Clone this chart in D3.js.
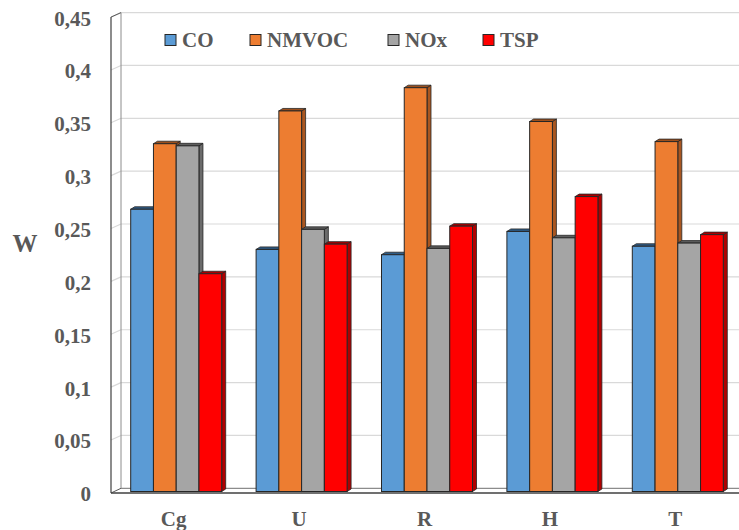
<!DOCTYPE html>
<html>
<head>
<meta charset="utf-8">
<script src="https://cdn.jsdelivr.net/npm/d3@7/dist/d3.min.js"></script>
<style>
  html, body { margin: 0; padding: 0; background: #fff; }
  svg { display: block; }
  svg text { font-family: "Liberation Serif", "Times New Roman", Times, "DejaVu Serif", serif !important; font-weight: bold; fill: #595959; }
</style>
</head>
<body>
<svg id="chart" width="739" height="530"></svg>
<script>
// Emission weights per category
const categories = ["Cg", "U", "R", "H", "T"];
const seriesNames = ["CO", "NMVOC", "NOx", "TSP"];
const coValues    = [0.267, 0.229, 0.224, 0.246, 0.232];
const nmvocValues = [0.329, 0.360, 0.382, 0.350, 0.331];
const noxValues   = [0.327, 0.248, 0.230, 0.240, 0.235];
const tspValues   = [0.206, 0.234, 0.251, 0.279, 0.243];
const yTicks = [0, 0.05, 0.1, 0.15, 0.2, 0.25, 0.3, 0.35, 0.4, 0.45];
const yTitle = "W";

const seriesValues = [coValues, nmvocValues, noxValues, tspValues];
const colors = {
  CO:    { front: "#5B9BD5", top: "#2F5C86", side: "#3A6C9C" },
  NMVOC: { front: "#ED7D31", top: "#9C4F1C", side: "#A95620" },
  NOx:   { front: "#A5A5A5", top: "#5E5E5E", side: "#6B6B6B" },
  TSP:   { front: "#FF0000", top: "#A80000", side: "#B00000" }
};
const FONT = "'Liberation Serif', 'Times New Roman', Times, 'DejaVu Serif', serif";

const svg = d3.select("#chart");
const W = 739;

// scales
const y = d3.scaleLinear().domain([0, 0.45]).range([491.5, 15.8]);
const x = d3.scaleBand().domain(categories).range([113.5, 740.5]).paddingInner(0).paddingOuter(0);
const xs = d3.scaleBand().domain(seriesNames).range([0, x.bandwidth()]).paddingInner(0).paddingOuter(0.756);

// 3D frame geometry
const wallFrontX = 111, wallBackX = 121;
const backDy = -3.2;             // back wall offset relative to front plane
const floorFrontY = 493;
const barDx = 4, barDy = -2.5;   // bar depth

const frame = svg.append("g");
// back wall gridlines
frame.selectAll("line.grid").data(yTicks.filter(v => v > 0)).join("line")
  .attr("class", "grid")
  .attr("x1", wallBackX).attr("x2", W)
  .attr("y1", d => y(d) + backDy).attr("y2", d => y(d) + backDy)
  .attr("stroke", "#D9D9D9").attr("stroke-width", 1.2);
// left wall gridline slants
frame.selectAll("line.wallgrid").data(yTicks.filter(v => v > 0)).join("line")
  .attr("class", "wallgrid")
  .attr("x1", wallFrontX).attr("x2", wallBackX)
  .attr("y1", d => y(d) + backDy + 4.5).attr("y2", d => y(d) + backDy)
  .attr("stroke", "#D9D9D9").attr("stroke-width", 1.2);
// left wall back edge
frame.append("line")
  .attr("x1", wallBackX).attr("x2", wallBackX)
  .attr("y1", y(0.45) + backDy).attr("y2", y(0) + backDy)
  .attr("stroke", "#8C8C8C").attr("stroke-width", 1);
// left wall front edge
frame.append("line")
  .attr("x1", wallFrontX).attr("x2", wallFrontX)
  .attr("y1", y(0.45) + backDy + 4.5).attr("y2", floorFrontY)
  .attr("stroke", "#404040").attr("stroke-width", 1.2);
// left wall top edge
frame.append("line")
  .attr("x1", wallFrontX).attr("x2", wallBackX)
  .attr("y1", y(0.45) + backDy + 4.5).attr("y2", y(0.45) + backDy)
  .attr("stroke", "#595959").attr("stroke-width", 1);
// floor back edge
frame.append("line")
  .attr("x1", wallBackX).attr("x2", W)
  .attr("y1", y(0) + backDy).attr("y2", y(0) + backDy)
  .attr("stroke", "#8C8C8C").attr("stroke-width", 1.2);
// floor left edge
frame.append("line")
  .attr("x1", wallFrontX).attr("x2", wallBackX)
  .attr("y1", floorFrontY).attr("y2", y(0) + backDy)
  .attr("stroke", "#595959").attr("stroke-width", 1);
// floor front edge
frame.append("line")
  .attr("x1", wallFrontX).attr("x2", W)
  .attr("y1", floorFrontY).attr("y2", floorFrontY)
  .attr("stroke", "#404040").attr("stroke-width", 1.3);

// bars with top and side faces
const bars = svg.append("g");
categories.forEach((cat, ci) => {
  seriesNames.forEach((s, si) => {
    const v = seriesValues[si][ci];
    const x0 = x(cat) + xs(s);
    const w = xs.bandwidth();
    const yt = y(v), yb = y(0);
    const c = colors[s];
    const g = bars.append("g");
    // side face
    g.append("path")
      .attr("d", `M${x0 + w},${yt} L${x0 + w + barDx},${yt + barDy} L${x0 + w + barDx},${yb + barDy} L${x0 + w},${yb} Z`)
      .attr("fill", c.side).attr("stroke", "#262626").attr("stroke-width", 0.8).attr("stroke-linejoin", "round");
    // top face
    g.append("path")
      .attr("d", `M${x0},${yt} L${x0 + barDx},${yt + barDy} L${x0 + w + barDx},${yt + barDy} L${x0 + w},${yt} Z`)
      .attr("fill", c.top).attr("stroke", "#262626").attr("stroke-width", 0.8).attr("stroke-linejoin", "round");
    // front face
    g.append("rect")
      .attr("x", x0).attr("y", yt).attr("width", w).attr("height", yb - yt)
      .attr("fill", c.front).attr("stroke", "#262626").attr("stroke-width", 1);
  });
});

// y axis labels
const locale = d3.formatLocale({ decimal: ",", thousands: ".", grouping: [3], currency: ["", ""] });
const fmt = locale.format(".2~f");
const yAxis = svg.append("g")
  .attr("transform", "translate(91,2.5)")
  .call(d3.axisLeft(y).tickValues(yTicks).tickFormat(fmt).tickSize(0).tickPadding(0));
yAxis.attr("font-family", FONT).attr("font-size", 21);
yAxis.select(".domain").remove();
yAxis.selectAll("text")
  .attr("font-family", FONT).attr("fill", "#595959").attr("font-weight", "bold")
  .style("font-size", "21px");

// y axis title
svg.append("text")
  .attr("x", 25).attr("y", 252)
  .attr("text-anchor", "middle")
  .attr("font-family", FONT).attr("font-weight", "bold").attr("fill", "#595959")
  .style("font-size", "25px")
  .text(yTitle);

// category labels
const xAxis = svg.append("g")
  .attr("transform", "translate(-2.5,0)")
  .call(d3.axisBottom(x).tickSize(0).tickPadding(0));
xAxis.attr("font-family", FONT).attr("font-size", 21);
xAxis.select(".domain").remove();
xAxis.selectAll("text")
  .attr("font-family", FONT).attr("fill", "#595959").attr("font-weight", "bold")
  .attr("y", 526).attr("dy", null)
  .style("font-size", "21px");

// legend
const legendX = [165, 250, 388, 483];
const legend = svg.append("g");
seriesNames.forEach((s, i) => {
  legend.append("rect")
    .attr("x", legendX[i]).attr("y", 34.5).attr("width", 11).attr("height", 11)
    .attr("fill", colors[s].front).attr("stroke", "#262626").attr("stroke-width", 1);
  legend.append("text")
    .attr("x", legendX[i] + 17).attr("y", 47)
    .attr("font-family", FONT).attr("font-weight", "bold").attr("fill", "#595959")
    .style("font-size", "21px")
    .text(s);
});
</script>
</body>
</html>
